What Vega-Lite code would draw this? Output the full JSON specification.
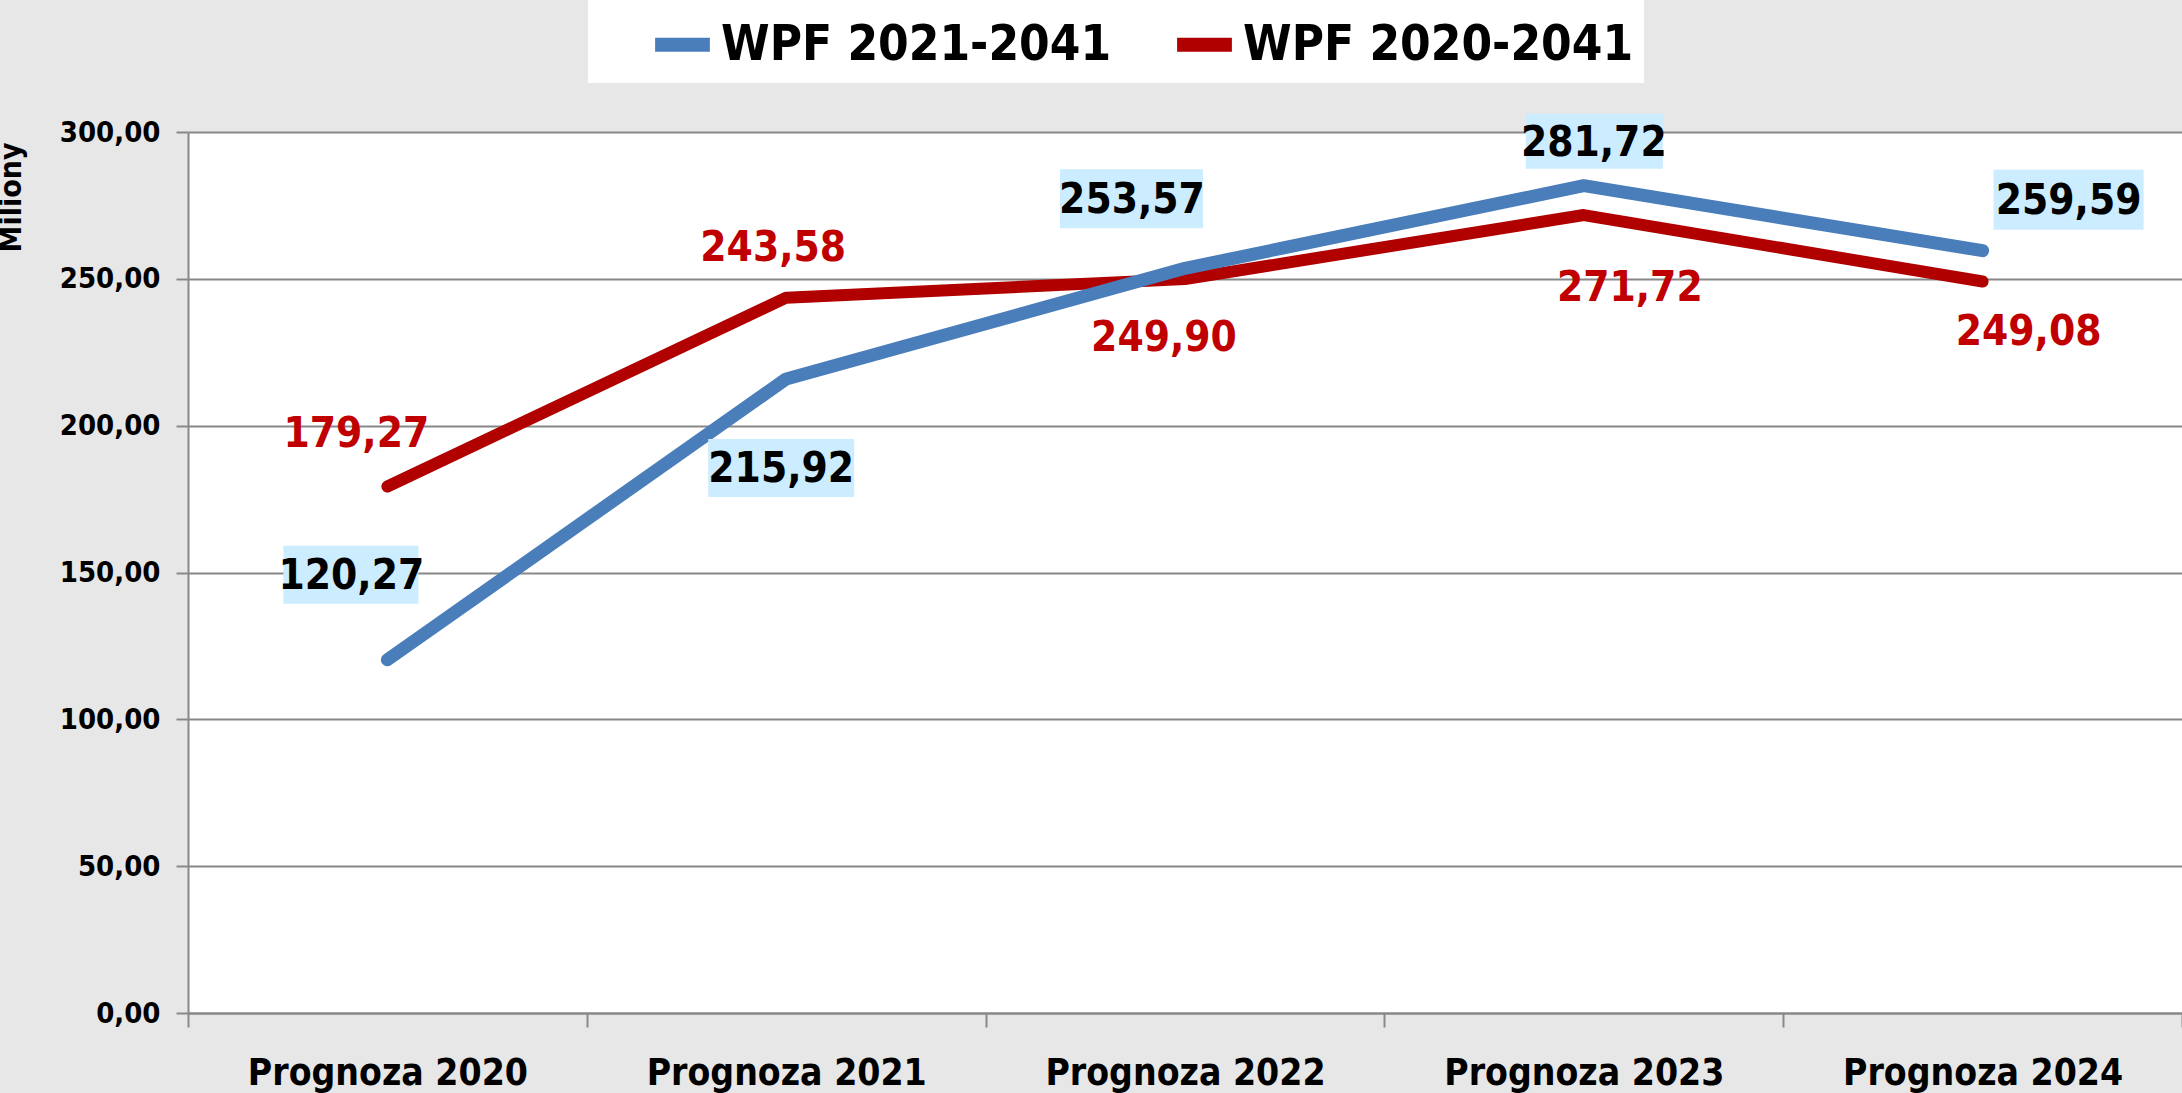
{
  "$schema": "https://vega.github.io/schema/vega-lite/v6.json",
  "autosize": {"type": "none"},
  "width": 1994,
  "height": 881,
  "padding": {"left": 188, "top": 132, "right": 0, "bottom": 80},
  "background": "#e7e7e7",
  "config": {
    "locale": {"number": {"decimal": ",", "thousands": " ", "grouping": [3], "currency": ["", " zł"]}},
    "view": {"fill": "white", "stroke": null},
    "font": "DejaVu Sans Condensed, Liberation Sans"
  },
  "data": {"values": [
    {"prognoza": "Prognoza 2020", "series": "WPF 2021-2041", "value": 120.27},
    {"prognoza": "Prognoza 2021", "series": "WPF 2021-2041", "value": 215.92},
    {"prognoza": "Prognoza 2022", "series": "WPF 2021-2041", "value": 253.57},
    {"prognoza": "Prognoza 2023", "series": "WPF 2021-2041", "value": 281.72},
    {"prognoza": "Prognoza 2024", "series": "WPF 2021-2041", "value": 259.59},
    {"prognoza": "Prognoza 2020", "series": "WPF 2020-2041", "value": 179.27},
    {"prognoza": "Prognoza 2021", "series": "WPF 2020-2041", "value": 243.58},
    {"prognoza": "Prognoza 2022", "series": "WPF 2020-2041", "value": 249.90},
    {"prognoza": "Prognoza 2023", "series": "WPF 2020-2041", "value": 271.72},
    {"prognoza": "Prognoza 2024", "series": "WPF 2020-2041", "value": 249.08}
  ]},
  "encoding": {
    "x": {"field": "prognoza", "type": "nominal", "sort": null,
      "scale": {"paddingInner": 0, "paddingOuter": 0},
      "axis": {"title": null, "labelAngle": 0, "labelFont": "DejaVu Sans Condensed, Liberation Sans", "labelFontWeight": "bold", "labelFontSize": 37, "labelColor": "black", "labelLimit": 500,
        "labelPadding": 28, "tickSize": 14, "tickColor": "#888888", "tickWidth": 2, "domainColor": "#888888", "domainWidth": 2, "tickBand": "extent", "grid": false}},
    "y": {"field": "value", "type": "quantitative",
      "scale": {"domain": [0, 300]},
      "axis": {"values": [0, 50, 100, 150, 200, 250, 300], "format": ".2f", "title": "Miliony",
        "titleFont": "DejaVu Sans Condensed, Liberation Sans", "titleFontWeight": "bold", "titleFontSize": 30, "titleColor": "black",
        "titleAngle": -90, "titleAlign": "center", "titleBaseline": "alphabetic", "titleX": -168, "titleY": 65,
        "labelFont": "DejaVu Sans Condensed, Liberation Sans", "labelFontWeight": "bold", "labelFontSize": 29, "labelColor": "black", "labelPadding": 16,
        "tickSize": 12, "tickColor": "#888888", "tickWidth": 2, "domainColor": "#888888", "domainWidth": 2,
        "grid": true, "gridColor": "#888888", "gridWidth": 2}}
  },
  "layer": [
    {"transform": [{"filter": "datum.series === 'WPF 2020-2041'"}],
     "mark": {"type": "line", "strokeWidth": 12, "strokeCap": "round", "strokeJoin": "round"},
     "encoding": {"color": {"field": "series", "type": "nominal",
       "scale": {"domain": ["WPF 2021-2041", "WPF 2020-2041"], "range": ["#4A7EBB", "#B00000"]},
       "legend": {"title": null, "orient": "none", "legendX": 400, "legendY": -132, "direction": "horizontal",
         "fillColor": "white", "padding": 10, "symbolType": "stroke", "symbolStrokeWidth": 14, "symbolSize": 3000,
         "labelFont": "DejaVu Sans Condensed, Liberation Sans", "labelFontWeight": "bold", "labelFontSize": 49, "labelColor": "black", "labelLimit": 600,
         "labelOffset": 4, "columnPadding": 8, "symbolOffset": 50}}}},
    {"transform": [{"filter": "datum.series === 'WPF 2021-2041'"}],
     "mark": {"type": "line", "strokeWidth": 13, "strokeCap": "round", "strokeJoin": "round"},
     "encoding": {"color": {"field": "series", "type": "nominal"}}},

    {"transform": [{"filter": "datum.series === 'WPF 2021-2041' && datum.prognoza === 'Prognoza 2020'"}],
     "mark": {"type": "point", "filled": true, "fill": "#CCECFF", "opacity": 1, "size": 4, "shape": "M-104,-114H31V-56H-104Z"}},
    {"transform": [{"filter": "datum.series === 'WPF 2021-2041' && datum.prognoza === 'Prognoza 2021'"}],
     "mark": {"type": "point", "filled": true, "fill": "#CCECFF", "opacity": 1, "size": 4, "shape": "M-78,60H68V118H-78Z"}},
    {"transform": [{"filter": "datum.series === 'WPF 2021-2041' && datum.prognoza === 'Prognoza 2022'"}],
     "mark": {"type": "point", "filled": true, "fill": "#CCECFF", "opacity": 1, "size": 4, "shape": "M-125,-99H18V-40H-125Z"}},
    {"transform": [{"filter": "datum.series === 'WPF 2021-2041' && datum.prognoza === 'Prognoza 2023'"}],
     "mark": {"type": "point", "filled": true, "fill": "#CCECFF", "opacity": 1, "size": 4, "shape": "M-58,-72H79V-17H-58Z"}},
    {"transform": [{"filter": "datum.series === 'WPF 2021-2041' && datum.prognoza === 'Prognoza 2024'"}],
     "mark": {"type": "point", "filled": true, "fill": "#CCECFF", "opacity": 1, "size": 4, "shape": "M11,-81H161V-21H11Z"}},

    {"transform": [{"filter": "datum.series === 'WPF 2021-2041' && datum.prognoza === 'Prognoza 2020'"}],
     "mark": {"type": "text", "font": "DejaVu Sans Condensed, Liberation Sans", "fontWeight": "bold", "fontSize": 42, "color": "black", "baseline": "middle", "dx": -36, "dy": -84},
     "encoding": {"text": {"field": "value", "type": "quantitative", "format": ".2f"}}},
    {"transform": [{"filter": "datum.series === 'WPF 2021-2041' && datum.prognoza === 'Prognoza 2021'"}],
     "mark": {"type": "text", "font": "DejaVu Sans Condensed, Liberation Sans", "fontWeight": "bold", "fontSize": 42, "color": "black", "baseline": "middle", "dx": -5, "dy": 90},
     "encoding": {"text": {"field": "value", "type": "quantitative", "format": ".2f"}}},
    {"transform": [{"filter": "datum.series === 'WPF 2021-2041' && datum.prognoza === 'Prognoza 2022'"}],
     "mark": {"type": "text", "font": "DejaVu Sans Condensed, Liberation Sans", "fontWeight": "bold", "fontSize": 42, "color": "black", "baseline": "middle", "dx": -53, "dy": -68},
     "encoding": {"text": {"field": "value", "type": "quantitative", "format": ".2f"}}},
    {"transform": [{"filter": "datum.series === 'WPF 2021-2041' && datum.prognoza === 'Prognoza 2023'"}],
     "mark": {"type": "text", "font": "DejaVu Sans Condensed, Liberation Sans", "fontWeight": "bold", "fontSize": 42, "color": "black", "baseline": "middle", "dx": 10, "dy": -43},
     "encoding": {"text": {"field": "value", "type": "quantitative", "format": ".2f"}}},
    {"transform": [{"filter": "datum.series === 'WPF 2021-2041' && datum.prognoza === 'Prognoza 2024'"}],
     "mark": {"type": "text", "font": "DejaVu Sans Condensed, Liberation Sans", "fontWeight": "bold", "fontSize": 42, "color": "black", "baseline": "middle", "dx": 86, "dy": -50},
     "encoding": {"text": {"field": "value", "type": "quantitative", "format": ".2f"}}},

    {"transform": [{"filter": "datum.series === 'WPF 2020-2041' && datum.prognoza === 'Prognoza 2020'"}],
     "mark": {"type": "text", "font": "DejaVu Sans Condensed, Liberation Sans", "fontWeight": "bold", "fontSize": 42, "color": "#C00000", "baseline": "middle", "dx": -31, "dy": -53},
     "encoding": {"text": {"field": "value", "type": "quantitative", "format": ".2f"}}},
    {"transform": [{"filter": "datum.series === 'WPF 2020-2041' && datum.prognoza === 'Prognoza 2021'"}],
     "mark": {"type": "text", "font": "DejaVu Sans Condensed, Liberation Sans", "fontWeight": "bold", "fontSize": 42, "color": "#C00000", "baseline": "middle", "dx": -13, "dy": -50},
     "encoding": {"text": {"field": "value", "type": "quantitative", "format": ".2f"}}},
    {"transform": [{"filter": "datum.series === 'WPF 2020-2041' && datum.prognoza === 'Prognoza 2022'"}],
     "mark": {"type": "text", "font": "DejaVu Sans Condensed, Liberation Sans", "fontWeight": "bold", "fontSize": 42, "color": "#C00000", "baseline": "middle", "dx": -21, "dy": 59},
     "encoding": {"text": {"field": "value", "type": "quantitative", "format": ".2f"}}},
    {"transform": [{"filter": "datum.series === 'WPF 2020-2041' && datum.prognoza === 'Prognoza 2023'"}],
     "mark": {"type": "text", "font": "DejaVu Sans Condensed, Liberation Sans", "fontWeight": "bold", "fontSize": 42, "color": "#C00000", "baseline": "middle", "dx": 46, "dy": 73},
     "encoding": {"text": {"field": "value", "type": "quantitative", "format": ".2f"}}},
    {"transform": [{"filter": "datum.series === 'WPF 2020-2041' && datum.prognoza === 'Prognoza 2024'"}],
     "mark": {"type": "text", "font": "DejaVu Sans Condensed, Liberation Sans", "fontWeight": "bold", "fontSize": 42, "color": "#C00000", "baseline": "middle", "dx": 46, "dy": 50},
     "encoding": {"text": {"field": "value", "type": "quantitative", "format": ".2f"}}}
  ]
}
